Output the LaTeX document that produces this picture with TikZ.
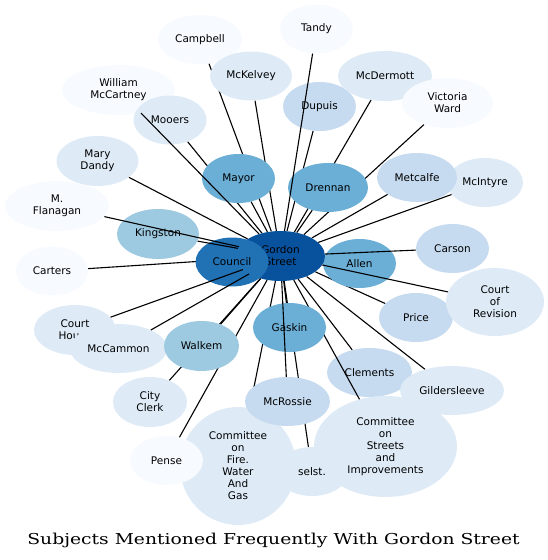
\documentclass[tikz,border=0pt]{standalone}
\usepackage{fontspec}
\usetikzlibrary{shapes.geometric}
\newfontfamily\labelfont{DejaVu Sans}
\newfontfamily\titlefont{DejaVu Serif}
\definecolor{bluA}{HTML}{F7FBFF}
\definecolor{bluB}{HTML}{DEEBF7}
\definecolor{bluC}{HTML}{C6DBEF}
\definecolor{bluD}{HTML}{9ECAE1}
\definecolor{bluE}{HTML}{6BAED6}
\definecolor{bluF}{HTML}{2171B5}
\definecolor{bluG}{HTML}{08519C}
\pgfdeclarelayer{background}
\pgfdeclarelayer{front}
\pgfsetlayers{background,main,front}
\tikzset{
  topic/.style={ellipse, inner sep=0pt, minimum width=73pt, minimum height=49pt,
    align=center, font=\labelfont\fontsize{10.5}{12}\selectfont},
  link/.style={line width=1.1pt}
}

\begin{document}
\begin{tikzpicture}[x=1pt, y=-1pt]
  \useasboundingbox (0,0) rectangle (548,560);

  % 上方
  \node[topic, fill=bluA, minimum width=84pt] (campbell) at (200,39.5) {Campbell};
  \node[topic, fill=bluB, minimum width=82pt] (mckelvey) at (251,76) {McKelvey};
  \node[topic, fill=bluC] (dupuis) at (319.5,106.5) {Dupuis};
  \node[topic, fill=bluA] (tandy) at (316.5,29) {Tandy};
  \node[topic, fill=bluB, minimum width=94pt, minimum height=50pt] (mcdermott) at (385,76) {McDermott};
  \node[topic, fill=bluA, minimum width=91pt, minimum height=50pt] (victoria) at (447.5,103) {Victoria\\Ward};
  \node[topic, fill=bluA, minimum width=113pt, minimum height=50pt] (mccartney) at (118.5,90) {William\\McCartney};
  \node[topic, fill=bluB] (mooers) at (170,120) {Mooers};
  \node[topic, fill=bluB, minimum width=82pt, minimum height=50pt] (dandy) at (97.5,161) {Mary\\Dandy};
  \node[topic, fill=bluE] (mayor) at (238.5,178.5) {Mayor};
  \node[topic, fill=bluE, minimum width=80pt] (drennan) at (328,187.5) {Drennan};
  \node[topic, fill=bluB, minimum width=76pt] (mcintyre) at (485,182.5) {McIntyre};
  \node[topic, fill=bluC, minimum width=80pt] (metcalfe) at (417,177.5) {Metcalfe};

  % 中间
  \node[topic, fill=bluA, minimum width=104pt, minimum height=50pt] (flanagan) at (57,206) {M.\\Flanagan};
  \node[topic, fill=bluD, minimum width=82pt, minimum height=50pt] (kingston) at (158,234) {Kingston};
  \node[topic, fill=bluA, minimum width=72pt] (carters) at (52,271) {Carters};
  \node[topic, fill=bluE] (allen) at (359.5,263.5) {Allen};
  \node[topic, fill=bluG, minimum width=89pt, minimum height=50pt] (gs) at (280.5,256) {Gordon\\Street};
  \node[topic, fill=bluF] (council) at (232,262) {Council};
  \node[topic, fill=bluC] (carson) at (452.5,248.5) {Carson};
  \node[topic, fill=bluC, minimum width=74pt] (price) at (416,317.5) {Price};
  \node[topic, fill=bluB, minimum width=98pt, minimum height=68pt] (revision) at (495,302) {Court\\of\\Revision};

  % 下方
  \node[topic, fill=bluC, minimum width=85pt] (clements) at (369.5,372.5) {Clements};
  \node[topic, fill=bluB, minimum width=104pt] (gildersleeve) at (452,390.5) {Gildersleeve};
  \node[topic, fill=bluB] (selst) at (312,471.5) {selst.};
  \node[topic, fill=bluB, minimum width=143pt, minimum height=101pt] (streets) at (385.5,446.5) {Committee\\on\\Streets\\and\\Improvements};
  \node[topic, fill=bluB, minimum width=116pt, minimum height=118pt] (fire) at (238,466) {Committee\\on\\Fire.\\Water\\And\\Gas};
  \node[topic, fill=bluC, minimum width=85pt] (mcrossie) at (287.5,401.5) {McRossie};
  \node[topic, fill=bluA] (pense) at (166.5,460.5) {Pense};
  \node[topic, fill=bluB, minimum width=74pt, minimum height=50pt] (clerk) at (150,402) {City\\Clerk};
  \node[topic, fill=bluB, minimum width=82pt, minimum height=50pt] (courthouse) at (75,330) {Court\\House};
  \node[topic, fill=bluB, minimum width=97pt] (mccammon) at (118.5,348.5) {McCammon};
  \node[topic, fill=bluD, minimum width=75pt, minimum height=50pt] (walkem) at (201.5,346) {Walkem};

  % 被遮住的连线
  \begin{pgfonlayer}{background}
    \foreach \t in {campbell, mckelvey, dupuis, mcdermott, victoria, mooers, dandy,
        mayor, drennan, mcintyre, metcalfe, carters, allen, council, price,
        clements, gildersleeve, selst, fire, pense, clerk, walkem}
      \draw[link] (gs) -- (\t);
  \end{pgfonlayer}

  % 压在节点上的连线
  \begin{pgfonlayer}{front}
    \draw[link] (gs) -- (streets);
    \node[topic, fill=bluE] (gaskin) at (289.5,327.5) {Gaskin};
    \draw[link] (gs) -- (gaskin);
    \foreach \t in {mcrossie, tandy, mccartney, flanagan, kingston, mccammon,
        courthouse, carson, revision}
      \draw[link] (gs) -- (\t);
  \end{pgfonlayer}

  \node[anchor=base, font=\titlefont\fontsize{15}{18}\selectfont] (title) at (273.5,544)
    {\scalebox{1.25}[1]{Subjects Mentioned Frequently With Gordon Street}};
\end{tikzpicture}
\end{document}
